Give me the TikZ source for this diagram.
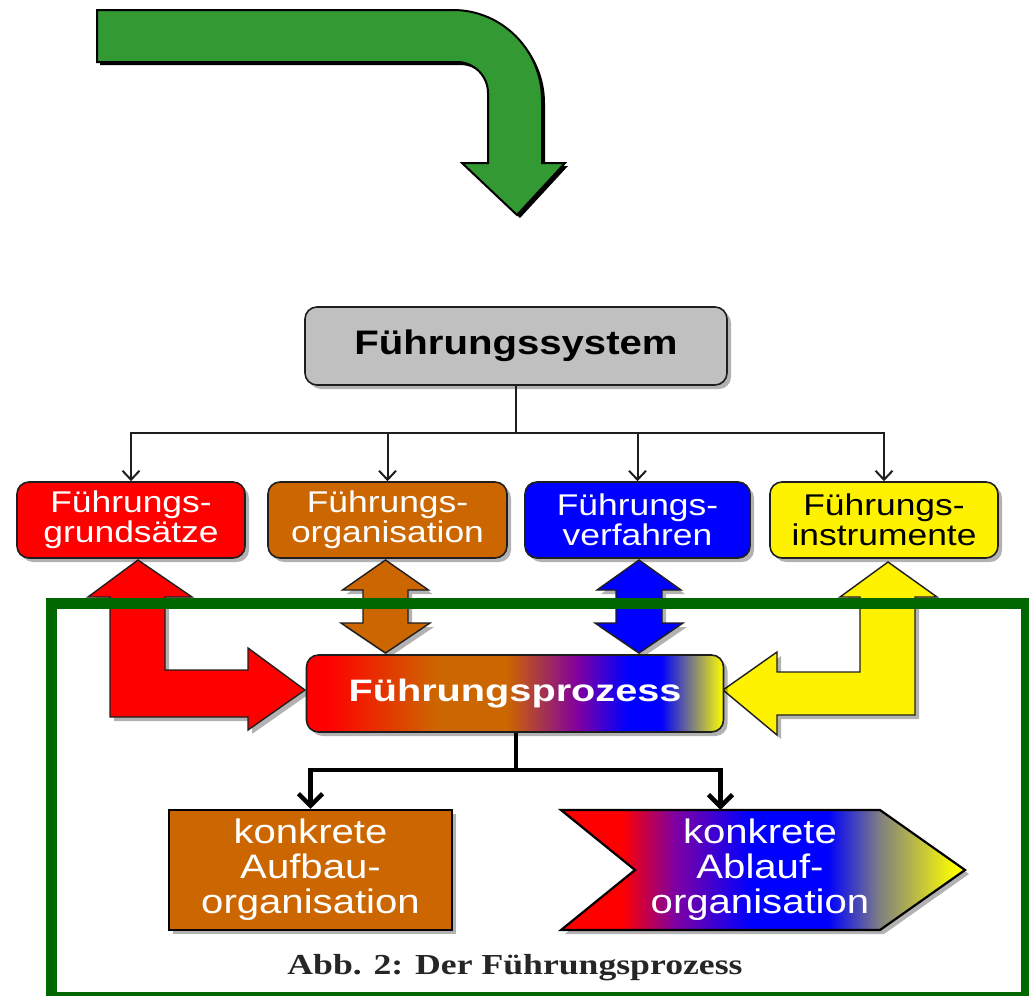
\documentclass[tikz,border=0pt]{standalone}
\usepackage{fontspec}
\usetikzlibrary{arrows.meta,shadows}

\newfontfamily\boxfont[FakeStretch=1.18]{Liberation Sans}
\newfontfamily\headfont[FakeStretch=1.18]{Liberation Sans}
\newfontfamily\procfont[FakeStretch=1.28]{Liberation Sans}
\newfontfamily\lowfont[FakeStretch=1.18]{Liberation Sans}
\newfontfamily\capfont[FakeStretch=1.23]{Liberation Serif}

\definecolor{fgreen}{RGB}{51,153,51}
\definecolor{framegreen}{RGB}{0,102,0}
\definecolor{fbrown}{RGB}{204,102,0}
\definecolor{fgray}{RGB}{192,192,192}
\definecolor{fpurple}{RGB}{128,0,160}
\definecolor{fgrayblue}{RGB}{128,128,128}
\definecolor{edge}{RGB}{30,30,30}

% colour run of the process box: red - brown - blue - yellow
\pgfdeclarehorizontalshading{procshade}{100bp}{color(0bp)=(red); color(27.5bp)=(red);
  color(40.5bp)=(fbrown); color(49bp)=(fbrown); color(57.5bp)=(fpurple);
  color(63.5bp)=(blue); color(67.5bp)=(blue); color(75bp)=(yellow); color(100bp)=(yellow)}
% colour run of the chevron
\pgfdeclarehorizontalshading{ablshade}{100bp}{color(0bp)=(red); color(32.5bp)=(red);
  color(39bp)=(fpurple); color(48.5bp)=(blue); color(58bp)=(blue);
  color(64.5bp)=(fgrayblue); color(74bp)=(yellow); color(100bp)=(yellow)}

\begin{document}
\begin{tikzpicture}[x=1pt,y=-1pt,
  softshadow/.style={drop shadow={shadow xshift=4pt,shadow yshift=-4pt,fill=black,opacity=0.3}},
  hardshadow/.style={drop shadow={shadow xshift=3pt,shadow yshift=-3pt,fill=black,opacity=1}},
  topbox/.style={draw=edge,line width=1.6pt,rounded corners=12pt,inner sep=0pt,
    align=center,softshadow},
  smallbox/.style={topbox,minimum height=76pt,text=white,
    font=\boxfont\fontsize{30}{30}\selectfont},
  blockarrow/.style={draw=edge,line width=1.4pt,line join=miter,softshadow},
  treeline/.style={draw=edge,line width=2pt},
  treearrow/.style={treeline,-{Straight Barb[length=9pt,width=17pt,line width=2pt]}},
  lowline/.style={draw=black,line width=4.5pt},
  lowarrow/.style={lowline,-{Straight Barb[length=12pt,width=24pt,line width=4.5pt]}},
  lowtext/.style={text=white,align=center,font=\lowfont\fontsize{34}{35}\selectfont}]

\useasboundingbox (0,0) rectangle (1029,996);

% bent green arrow at the top
\path[fill=fgreen,draw=black,line width=2pt,line join=miter,hardshadow]
  (97,10) -- (453,10) .. controls (502,10) and (542,50) .. (542,100)
  -- (542,163) -- (565,163) -- (517,215) -- (462,163) -- (488,163)
  -- (488,93) .. controls (488,76) and (474,62) .. (457,62) -- (97,62) -- cycle;

% top level
\node[topbox,fill=fgray,minimum width=422pt,minimum height=78pt,
  font=\headfont\bfseries\fontsize{34}{34}\selectfont] (sys) at (516,346) {Führungssystem};

% second level
\node[smallbox,fill=red,minimum width=228pt] (b1) at (131,520) {Führungs-\\grundsätze};
\node[smallbox,fill=fbrown,minimum width=239pt] (b2) at (387.5,520) {Führungs-\\organisation};
\node[smallbox,fill=blue,minimum width=225pt] (b3) at (637.5,520) {Führungs-\\verfahren};
\node[smallbox,fill=yellow,text=black,minimum width=228pt] (b4) at (884,520) {Führungs-\\instrumente};

\coordinate (j) at (516,433);
\draw[treeline] (sys.south) -- (j);
\foreach \b in {b1,b2,b3,b4}
  \draw[treearrow] (j) -| (\b.north);

% block arrows between the second level and the process
\path[blockarrow,fill=red]
  (88,597) -- (138,560) -- (192,597) -- (165,597) -- (165,670) -- (248,670)
  -- (248,648) -- (305,690) -- (248,730) -- (248,717) -- (110,717) -- (110,597) -- cycle;
\path[blockarrow,fill=fbrown]
  (385.5,560) -- (428.5,590) -- (408,590) -- (408,623) -- (430,623) -- (385.5,653)
  -- (341,623) -- (363,623) -- (363,590) -- (342.5,590) -- cycle;
\path[blockarrow,fill=blue]
  (639,560) -- (681,590) -- (662,590) -- (662,623) -- (683,623) -- (639,653)
  -- (595,623) -- (616,623) -- (616,590) -- (597,590) -- cycle;
\path[blockarrow,fill=yellow]
  (888,562) -- (937,597) -- (915,597) -- (915,715) -- (777,715) -- (777,735)
  -- (723,690) -- (777,652) -- (777,672) -- (860,672) -- (860,597) -- (840,597) -- cycle;

% process
\node[topbox,shade,shading=procshade,minimum width=417pt,minimum height=77pt,
  text=white,font=\procfont\bfseries\fontsize{31}{31}\selectfont] (proc) at (515,693.5) {Führungsprozess};

% results
\node[draw=black,line width=2.2pt,fill=fbrown,minimum width=283pt,minimum height=120pt,
  inner sep=0pt,lowtext,softshadow] (aufbau) at (310.5,870) {konkrete\\Aufbau-\\organisation};

\path[shade,shading=ablshade,draw=black,line width=2.2pt,line join=miter,softshadow]
  (561,810) -- (880,810) -- (965,870) -- (880,930) -- (561,930) -- (635,870) -- cycle;
\node[minimum width=319pt,minimum height=120pt,inner sep=0pt] (ablauf) at (720.5,870) {};
\node[lowtext] (abltext) at (760,870) {konkrete\\Ablauf-\\organisation};

\coordinate (k) at (516,770);
\draw[lowline] (proc.south -| k) -- (k);
\draw[lowarrow] (k) -| (aufbau.north);
\draw[lowarrow] (k) -| (ablauf.north);

% caption
\node[font=\capfont\bfseries\fontsize{29}{29}\selectfont,text=black!85] (cap) at (515,968) {Abb. 2: Der Führungsprozess};

% green frame
\draw[framegreen,line width=11pt] (51.5,603.5) rectangle (1026.5,997.5);

\end{tikzpicture}
\end{document}
